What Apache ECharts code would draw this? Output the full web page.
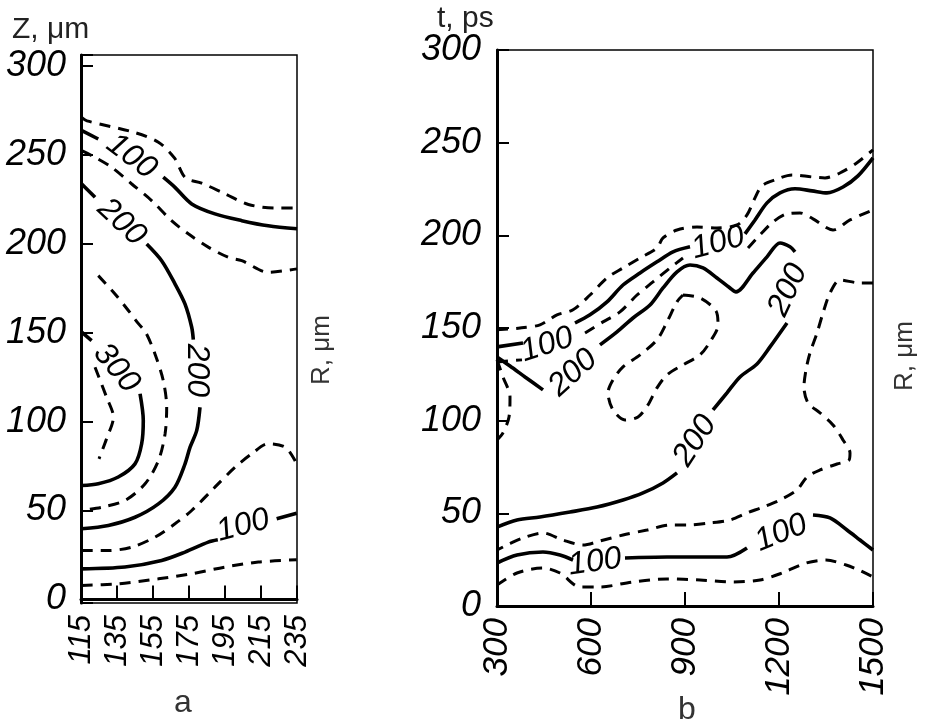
<!DOCTYPE html>
<html>
<head>
<meta charset="utf-8">
<title>Contours a / b</title>
<script src="https://cdn.jsdelivr.net/npm/echarts@6/dist/echarts.min.js"></script>
<style>
  html, body { margin: 0; padding: 0; background: #fff; }
  #chart { width: 927px; height: 727px; }
</style>
</head>
<body>
<div id="chart"></div>
<script>
// ---- panel a : x = R (um), y = Z (um)
const aXTicks = [115, 135, 155, 175, 195, 215, 235];
const aYRange = [-2, 306];

const aLvl50Upper = [[115.5,270.8],[118.3,269],[145,262.4],[158,257],[167,248],[173,237],[182,234],[195,228],[208,222],[223,220],[235,220]];
const aLvl100Upper = [
  [[115.5,263.5],[124.6,258.8]],
  [[160.7,237.3],[167.2,231.6],[176.5,222.3],[189.4,216.7],[204.3,212.9],[219,210],[235,208.3]]
];
const aLvl150Upper = [[115.4,252.2],[122.8,248.5],[132,242.9],[143.2,233.5],[154.2,224.2],[165.3,212.9],[174.6,205.5],[185.7,198],[196.8,192.3],[204.3,190.4],[219,183.9],[235,185.8]];
const aLvl200 = [
  [[115.4,233.5],[122.8,226]],
  [[151.5,199.8],[159.8,190.4],[167.2,177.4],[172.8,166],[176.5,153],[177.4,146]],
  [[181.1,108],[179.3,95],[175.6,85.6],[172.8,76.2],[167.2,63.1],[158,53.7],[145,46.2],[130.2,41.6],[115.4,39.7]]
];
const aLvl250 = [[124.6,182],[133.9,171.7],[141.3,162.4],[146.9,155],[151,150],[156.1,138],[160.7,123],[162.6,108],[161.7,93],[158,78],[150.6,65],[139.4,55.6],[126.5,51.8],[115.4,50]];
const aLvl300 = [
  [[115.4,150.2],[120.9,145.5]],
  [[147.8,115.6],[149.6,100.6],[148.7,87.5],[145,76.2],[135.7,68.8],[124.6,65],[115.4,64]]
];
const aLvl350 = [[122.8,130.5],[129.2,113.7],[133,102.5],[129.2,90.3],[125,79]];
const aLvl150Lower = [[115.4,27.5],[130.2,27.5],[143.2,29.4],[156.1,35],[167.2,42.5],[176.5,50],[189.4,63.1],[200.6,74.3],[209.8,81.8],[219,87.5],[228.3,85.6],[233.9,78],[234.8,74.3]];
const aLvl100Lower = [
  [[115.4,17.2],[139.4,18.2],[159.8,21.9],[172.8,26.6],[185.7,32.2],[191,33.5]],
  [[223.7,45.3],[234.8,48.5]]
];
const aLvl50Lower = [[115.4,7.9],[135.7,8.8],[158,11.6],[176.5,14.4],[195,18.2],[213.5,21],[234.8,22.3]];

const aLabels = [[143,249,'100'],[137.6,212,'200'],[134.7,130,'300'],[179.2,128.7,'200'],[205,41.5,'100']];
const aLabelAngles = [-37, -43, -50, -90, 15];

// ---- panel b : x = R (um), y = t (ps)
const bXTicks = [300, 600, 900, 1200, 1500];
const bYTicks = [0, 50, 100, 150, 200, 250, 300];

const bLvl50Upper = [[300,149],[373.4,150],[437.2,151.7],[491.5,157.1],[542.6,159.8],[596.8,167.8],[651.1,177],[702.1,182.4],[756.4,187.8],[810.6,193.2],[829.8,198.6],[874.5,202.9],[938.3,204.5],[1002.1,204],[1066,205.6],[1097.9,211],[1123.4,220.2],[1145.7,226.7],[1187.2,229.9],[1241.5,232.6],[1305.3,231.5],[1346.8,231],[1401.1,234.2],[1452.1,239.6],[1500,246.1]];
const bLvl100Upper = [
  [[300,139.8],[383,141.9]],
  [[548.9,152.7],[596.8,157.1],[651.1,164.1],[702.1,173.2],[756.4,179.7],[810.6,185.7],[861.7,191.1],[916,193.8]],
  [[1091.5,200.8],[1123.4,208.3],[1161.7,217.5],[1203.2,222.9],[1251.1,225.1],[1305.3,224],[1353.2,222.9],[1404.3,226.1],[1452.1,232.1],[1500,241.8]]
];
const bLvl150Upper = [
  [[300,131.7],[379.8,132.8]],
  [[580.9,147.3],[638.3,153.3],[692.5,158.7],[746.8,167.8],[797.9,174.9],[852.1,182.4],[893.6,187.8]],
  [[1101.1,193.2],[1139.4,200.2],[1180.9,207.2],[1225.5,211.6],[1267,212.1],[1308.5,208.9],[1372.3,202.9],[1426.6,208.3],[1500,213.7]]
];
const bLvl200 = [
  [[300,134.4],[341.5,129.5],[389.4,123.6],[446.8,116.6]],
  [[628.7,140.9],[683,147.9],[734,155.4],[788.3,162.4],[829.8,171.6],[874.5,180.3],[916,184],[957.5,182.4],[1002.1,177],[1043.6,171.6],[1062.8,169.5],[1117,179.7],[1161.7,188.4],[1203.2,195.9],[1235.1,193.8],[1251.1,191.1]],
  [[1225.5,152.7],[1171.3,139.8],[1129.8,130.6],[1075.5,123.6],[1034,115],[989.4,105.8]],
  [[874.5,71.8],[829.8,66.4],[766,61],[702.1,57.2],[619.2,53.4],[533,50.7],[437.2,48],[363.8,46.4],[300,42.6]]
];
const bLvl250Left = [[300,132.8],[319.1,123.6],[341.5,112.8],[338.3,102],[319.1,93.4],[300,89.6]];
const bLvl250Loop = [[893.6,167.8],[947.9,166.2],[998.9,159.2],[1005.3,151.7],[979.8,142.5],[947.9,135.5],[893.6,130.1],[842.6,124.7],[810.6,117.7],[781.9,108.5],[750,102],[708.5,100.4],[670.2,105.8],[654.3,115],[670.2,122],[702.1,129],[756.4,135.5],[810.6,143.6],[842.6,153.3],[874.5,164.1],[893.6,167.8]];
const bLvl150Lower = [[1500,174.3],[1458.5,174.3],[1394.7,175.9],[1362.8,168.9],[1340.4,158.1],[1321.3,147.3],[1298.9,136.5],[1286.1,127.4],[1279.7,118.2],[1292.5,109.6],[1330.9,104.2],[1372.3,97.7],[1404.3,89.6],[1426.6,82.6],[1423.4,78.8],[1385.1,76.6],[1330.9,73.4],[1289.3,69.6],[1257.4,62.6],[1203.2,57.2],[1148.9,53.4],[1097.9,50.2],[1043.6,46.4],[979.8,44.8],[906.4,43.7],[852.1,43.7],[778.7,41],[702.1,38.3],[628.7,35.1],[574.5,32.9],[510.6,35.6],[446.8,39.4],[383,36.7],[331.9,32.9],[300,30.2]];
const bLvl100Lower = [
  [[300,23.2],[363.8,27.5],[446.8,29.1],[501.1,27.5],[542.6,24.8]],
  [[708.5,25.9],[842.6,26.4],[947.9,26.4],[1034,26.4],[1097.9,31.3]],
  [[1308.5,49.1],[1362.8,47.5],[1417,41],[1458.5,35.6],[1500,30.2]]
];
const bLvl50Lower = [[300,11.3],[363.8,17.8],[446.8,20.5],[501.1,17.8],[564.9,10.3],[628.7,10.3],[734,13],[842.6,14.6],[947.9,14],[1053.2,13],[1139.4,14],[1209.8,17.8],[1286.4,23.2],[1350.2,24.8],[1414,22.1],[1455.5,19.4],[1500,15.7]];

const bLabels = [[459.6,140.9,'100'],[1005.3,195.9,'100'],[542.6,125.8,'200'],[1228.7,170.5,'200'],[931.9,89.1,'200'],[612.8,23.7,'100'],[1206.6,39.4,'100']];
const bLabelAngles = [18, 15, 42, 65, 57, 8, 22];

const FONT = "'Liberation Sans', 'DejaVu Sans', sans-serif";
const PLAIN = "'Liberation Sans', 'DejaVu Sans', sans-serif";

function lines(segments, dashed, idx) {
  return segments.map(seg => ({
    type: 'line',
    xAxisIndex: idx,
    yAxisIndex: idx,
    data: seg,
    showSymbol: false,
    smooth: 0.3,
    silent: true,
    z: 3,
    lineStyle: {
      color: '#000',
      width: dashed ? 3 : 3.6,
      type: dashed ? [11, 8] : 'solid'
    }
  }));
}

function labels(list, angles, idx) {
  return {
    type: 'scatter',
    xAxisIndex: idx,
    yAxisIndex: idx,
    symbolSize: 1,
    silent: true,
    z: 5,
    itemStyle: { color: 'rgba(255,255,255,0)', opacity: 1 },
    label: {
      show: true,
      position: 'inside',
      color: '#000',
      opacity: 1,
      fontSize: 32,
      fontStyle: 'italic',
      fontFamily: FONT
    },
    data: list.map((l, i) => ({
      value: [l[0], l[1]],
      label: { formatter: l[2], rotate: angles[i], color: '#000' }
    }))
  };
}

function xAxisOf(ticks, idx, fontSize) {
  return {
    type: 'value',
    gridIndex: idx,
    min: ticks[0],
    max: ticks[ticks.length - 1],
    interval: ticks[1] - ticks[0],
    splitLine: { show: false },
    axisLine: { show: true, lineStyle: { color: '#000', width: 3 } },
    axisTick: { show: true, inside: true, length: 14, lineStyle: { color: '#000', width: 2 } },
    axisLabel: {
      rotate: 90, margin: 12, color: '#000',
      fontSize: fontSize, fontStyle: 'italic', fontFamily: FONT,
      formatter: v => String(v)
    }
  };
}

const series = [].concat(
  lines([aLvl50Upper], true, 0),
  lines(aLvl100Upper, false, 0),
  lines([aLvl150Upper], true, 0),
  lines(aLvl200, false, 0),
  lines([aLvl250], true, 0),
  lines(aLvl300, false, 0),
  lines([aLvl350], true, 0),
  lines([aLvl150Lower], true, 0),
  lines(aLvl100Lower, false, 0),
  lines([aLvl50Lower], true, 0),
  [labels(aLabels, aLabelAngles, 0)],
  lines([bLvl50Upper], true, 1),
  lines(bLvl100Upper, false, 1),
  lines(bLvl150Upper, true, 1),
  lines(bLvl200, false, 1),
  lines([bLvl250Left], true, 1),
  lines([bLvl250Loop], true, 1),
  lines([bLvl150Lower], true, 1),
  lines(bLvl100Lower, false, 1),
  lines([bLvl50Lower], true, 1),
  [labels(bLabels, bLabelAngles, 1)]
);

const chart = echarts.init(document.getElementById('chart'), null, { renderer: 'canvas' });

chart.setOption({
  backgroundColor: '#fff',
  animation: false,
  grid: [
    { left: 81, top: 55, width: 216, height: 548, show: true, borderColor: '#000', borderWidth: 1.5, outerBoundsMode: 'none' },
    { left: 497, top: 50, width: 376, height: 556, show: true, borderColor: '#000', borderWidth: 1.5, outerBoundsMode: 'none' }
  ],
  xAxis: [xAxisOf(aXTicks, 0, 31), xAxisOf(bXTicks, 1, 35)],
  yAxis: [
    {
      type: 'value', gridIndex: 0,
      min: aYRange[0], max: aYRange[1], splitNumber: 6,
      splitLine: { show: false },
      axisLine: { show: true, lineStyle: { color: '#000', width: 3 } },
      axisTick: { show: true, inside: true, length: 12, lineStyle: { color: '#000', width: 2 } },
      axisLabel: {
        margin: 15, color: '#000', fontSize: 36, fontStyle: 'italic', fontFamily: FONT,
        formatter: v => (v >= 0 && v % 50 === 0) ? String(v) : ''
      }
    },
    {
      type: 'value', gridIndex: 1,
      min: bYTicks[0], max: bYTicks[bYTicks.length - 1], interval: bYTicks[1] - bYTicks[0],
      splitLine: { show: false },
      axisLine: { show: true, lineStyle: { color: '#000', width: 3 } },
      axisTick: { show: true, inside: true, length: 12, lineStyle: { color: '#000', width: 2 } },
      axisLabel: { margin: 16, color: '#000', fontSize: 36, fontStyle: 'italic', fontFamily: FONT }
    }
  ],
  graphic: [
    { type: 'text', left: 12, top: 15, style: { text: 'Z, μm', fill: '#222', font: '30px ' + PLAIN } },
    { type: 'text', left: 437, top: 4, style: { text: 't, ps', fill: '#222', font: '30px ' + PLAIN } },
    { type: 'text', x: 322, y: 350, rotation: Math.PI / 2,
      style: { text: 'R, μm', fill: '#333', font: '26px ' + PLAIN, align: 'center', verticalAlign: 'middle' } },
    { type: 'text', x: 905, y: 356, rotation: Math.PI / 2,
      style: { text: 'R, μm', fill: '#333', font: '26px ' + PLAIN, align: 'center', verticalAlign: 'middle' } },
    { type: 'text', x: 183, y: 703,
      style: { text: 'a', fill: '#333', font: '32px ' + PLAIN, align: 'center', verticalAlign: 'middle' } },
    { type: 'text', x: 687, y: 710,
      style: { text: 'b', fill: '#333', font: '32px ' + PLAIN, align: 'center', verticalAlign: 'middle' } }
  ],
  series: series
});
</script>
</body>
</html>
